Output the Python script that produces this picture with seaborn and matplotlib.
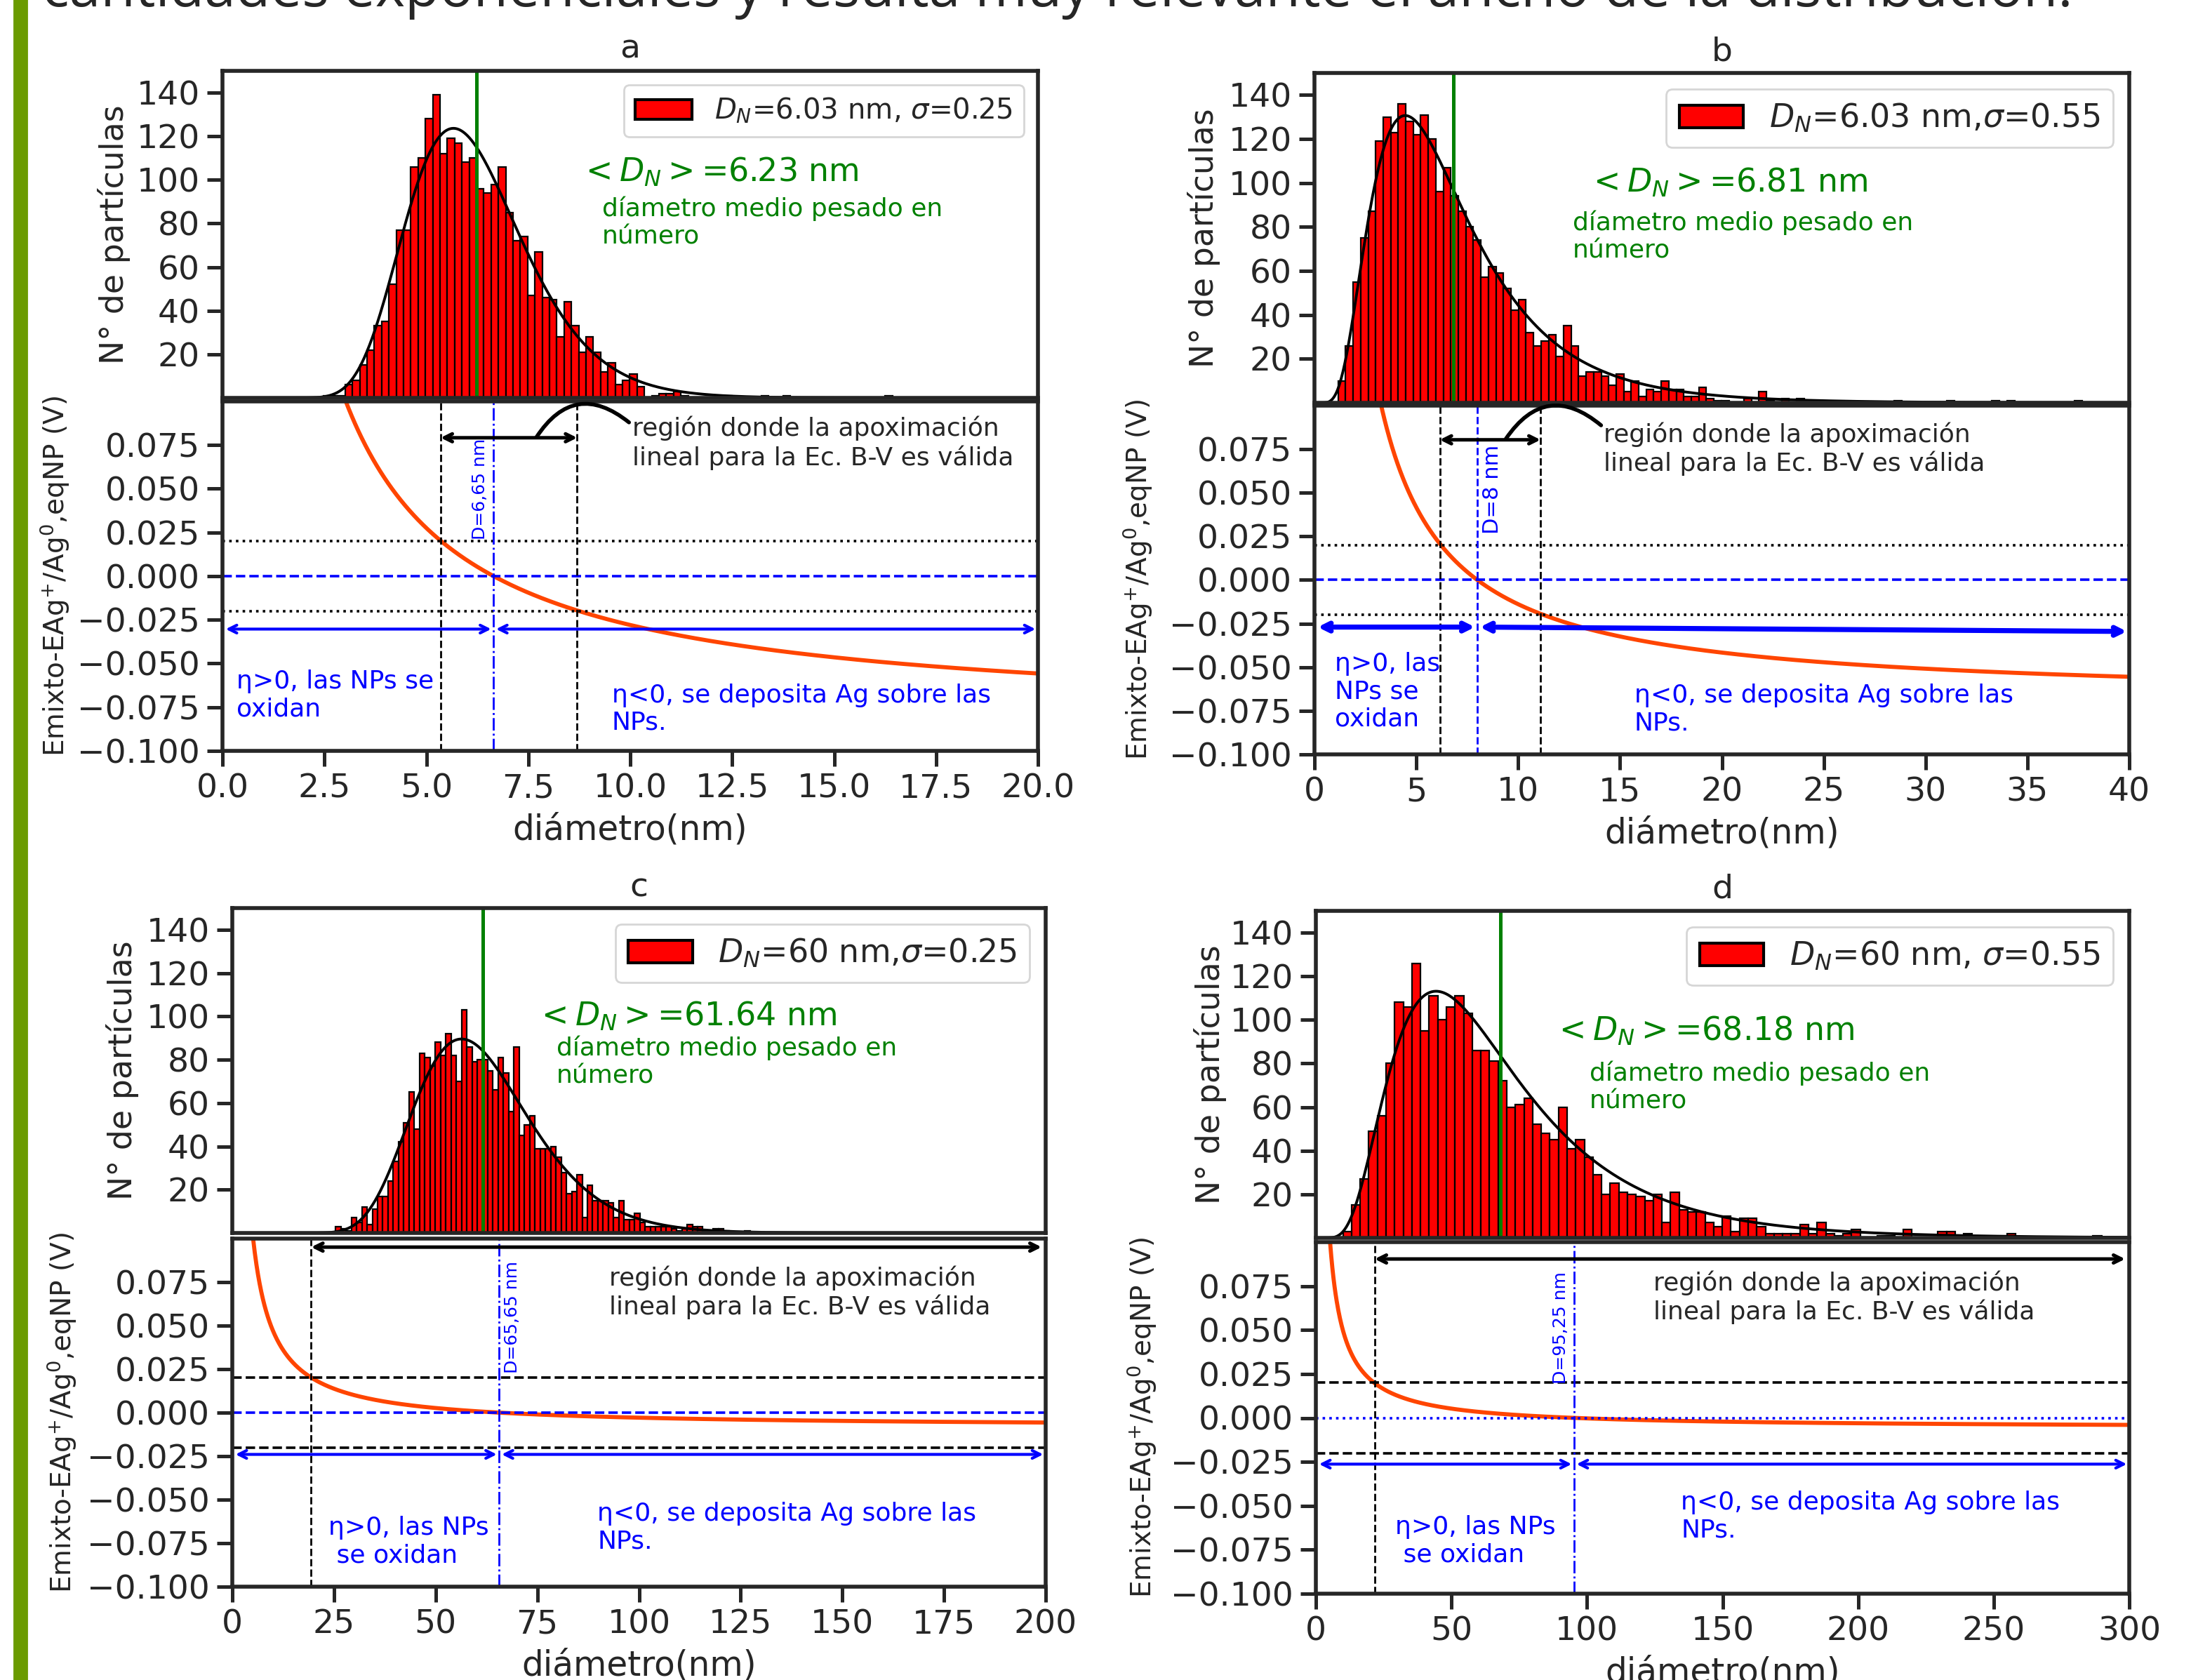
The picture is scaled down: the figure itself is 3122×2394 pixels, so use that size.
import numpy as np
import pandas as pd
import matplotlib.pyplot as plt
import seaborn as sns
from matplotlib.patches import Patch, Rectangle

# HISTOGRAM COUNTS (ONE LIST PER PANEL)
counts_a = [1, 1, 1, 6, 8, 15, 22, 33, 35, 52, 77, 77, 106, 110, 128, 139, 112, 119, 117, 108,
            110, 96, 94, 98, 106, 85, 72, 74, 47, 67, 46, 45, 28, 44, 33, 21, 28, 21, 12, 16,
            6, 8, 11, 5, 0, 1, 2, 2, 3, 1, 0, 0, 0, 0, 0, 1, 0, 0, 0, 0,
            1, 0, 0, 1, 0, 0, 0, 0, 0, 0, 0, 0, 0, 0, 0, 0, 0, 1]
counts_b = [10, 26, 55, 75, 87, 119, 130, 123, 136, 128, 122, 131, 120, 96, 107, 94, 87, 80, 74, 57,
            62, 59, 52, 42, 47, 32, 26, 28, 31, 21, 35, 26, 12, 14, 14, 12, 8, 13, 5, 10,
            3, 6, 5, 10, 6, 6, 3, 3, 7, 2, 1, 1, 0, 0, 2, 0, 5, 1, 0, 2,
            0, 2, 0, 0, 0, 0, 0, 0, 0, 0, 0, 0, 0, 0, 1, 0, 0, 0, 0, 0,
            0, 1, 0, 0, 0, 0, 0, 1, 0, 1, 0, 0, 0, 0, 0, 0, 0, 0, 1]
counts_c = [3, 2, 1, 7, 5, 12, 4, 11, 17, 17, 24, 33, 42, 51, 65, 48, 83, 81, 77, 88,
            82, 92, 82, 70, 103, 86, 79, 80, 80, 75, 66, 81, 74, 56, 86, 45, 50, 54, 39, 39,
            39, 40, 35, 28, 18, 19, 27, 7, 22, 15, 15, 15, 14, 7, 15, 6, 6, 9, 5, 3,
            3, 3, 3, 3, 2, 1, 2, 4, 3, 3, 1, 1, 2, 2, 1, 0, 0, 0, 1]
counts_d = [3, 15, 27, 49, 56, 80, 108, 106, 126, 95, 111, 100, 106, 111, 103, 86, 86, 81, 72, 60,
            61, 64, 52, 48, 45, 60, 41, 45, 37, 29, 20, 25, 21, 20, 19, 17, 20, 7, 21, 13,
            12, 12, 7, 5, 10, 3, 9, 9, 5, 2, 2, 2, 2, 6, 2, 7, 2, 1, 2, 4,
            0, 0, 1, 1, 0, 4, 0, 0, 0, 3, 3, 0, 2, 0, 0, 0, 0, 2, 0, 0,
            0, 0, 0, 0, 0, 0, 0, 1]
all_counts = [counts_a, counts_b, counts_c, counts_d]

# FIRST BIN EDGE AND BIN WIDTH (nm)
bin_start = [2.47, 1.16, 25.4, 10.0]
bin_width = [0.179, 0.369, 1.29, 3.18]

# LOG-NORMAL PARAMETERS (FROM THE LEGENDS) AND MEASURED MEAN DIAMETER
d_n = [6.03, 6.03, 60, 60]
sigma = [0.25, 0.55, 0.25, 0.55]
n_particles = 2530
mean_d = [6.23, 6.81, 61.64, 68.18]
legend_txt = [r'$D_N$=6.03 nm, $\sigma$=0.25', r'$D_N$=6.03 nm,$\sigma$=0.55',
              r'$D_N$=60 nm,$\sigma$=0.25', r'$D_N$=60 nm, $\sigma$=0.55']
mean_txt = [r'$<D_N>$=6.23 nm', r'$<D_N>$=6.81 nm', r'$<D_N>$=61.64 nm', r'$<D_N>$=68.18 nm']

# POTENTIAL CURVE: ZERO CROSSING, LINEAR REGION LIMITS
d_zero = [6.65, 8, 65.65, 95.25]
d_zero_txt = ['D=6,65 nm', 'D=8 nm', 'D=65,65 nm', 'D=95,25 nm']
lin_lo = [5.35, 6.15, 19.4, 21.7]
lin_hi = [8.7, 11.1, 200, 300]
k_kelvin = 0.555  # V nm
x_max = [20, 40, 200, 300]
x_step = [2.5, 5, 25, 50]
titles = ['a', 'b', 'c', 'd']

W, H = 3122, 2394
sns.set_style('ticks')
plt.rcParams['font.family'] = ['DejaVu Sans']
plt.rcParams['mathtext.fontset'] = 'dejavusans'

fig = plt.figure(figsize=(W / 200, H / 200), dpi=200)
fig.patch.set_facecolor('white')


def px_rect(x0, y0, x1, y1):
    return [x0 / W, 1 - y1 / H, (x1 - x0) / W, (y1 - y0) / H]


def lognorm_counts(d, dn, s, w):
    return n_particles * w * np.exp(-(np.log(d / dn)) ** 2 / (2 * s ** 2)) / (d * s * np.sqrt(2 * np.pi))


def e_mix(d, d0):
    return k_kelvin * (1.0 / d - 1.0 / d0)


# AXES POSITIONS IN PIXELS (x0, top, x1, bottom)
hist_px = [(317, 101, 1479, 567), (1873, 104, 3034, 574), (331, 1294, 1490, 1757), (1875, 1298, 3034, 1764)]
low_px = [(317, 572, 1479, 1070), (1873, 578, 3034, 1075), (331, 1765, 1490, 2261), (1875, 1770, 3034, 2271)]

# TEXT / ANNOTATION PLACEMENT PER PANEL
lay = [
    dict(leg_fs=14.5, mean_xy=(8.76, 103.6), sub_xy=(9.31, 80.5), hlab=-0.113, elab=-0.185,
         dz_side='left', dz_fs=9, dz_y=0.021, black_y=0.0792, blue_y=(-0.0303, -0.0303),
         reg_xy=(10.05, 0.0762), arc=((9.97, 0.088), (7.7, 0.0795)),
         left_txt='η>0, las NPs se\noxidan', left_xy=(0.35, -0.068), right_xy=(9.55, -0.076),
         hl=':', zl='--', vl='-.'),
    dict(leg_fs=16.5, mean_xy=(13.4, 100), sub_xy=(12.67, 75.5), hlab=-0.115, elab=-0.196,
         dz_side='right', dz_fs=11, dz_y=0.0264, black_y=0.0804, blue_y=(-0.027, -0.0295),
         reg_xy=(14.2, 0.075), arc=((14.07, 0.0887), (9.4, 0.081)),
         left_txt='η>0, las\nNPs se\noxidan', left_xy=(1.0, -0.064), right_xy=(15.7, -0.074),
         hl=':', zl='--', vl='--'),
    dict(leg_fs=16.5, mean_xy=(74.5, 100), sub_xy=(79.7, 79), hlab=-0.115, elab=-0.189,
         dz_side='right', dz_fs=9, dz_y=0.0227, black_y=0.0951, blue_y=(-0.024, -0.024),
         reg_xy=(92.7, 0.069), arc=None,
         left_txt='η>0, las NPs\n se oxidan', left_xy=(23.6, -0.074), right_xy=(89.8, -0.066),
         hl='--', zl='--', vl='-.'),
    dict(leg_fs=16.5, mean_xy=(87.6, 95), sub_xy=(101, 69.3), hlab=-0.110, elab=-0.193,
         dz_side='left', dz_fs=9, dz_y=0.0195, black_y=0.0904, blue_y=(-0.0263, -0.0263),
         reg_xy=(124.6, 0.0685), arc=None,
         left_txt='η>0, las NPs\n se oxidan', left_xy=(29.2, -0.070), right_xy=(134.7, -0.056),
         hl='--', zl=':', vl='-.'),
]
title_y = [70, 74, 1265, 1267]

for i in range(4):
    L = lay[i]
    ax_h = fig.add_axes(px_rect(*hist_px[i]))
    ax_e = fig.add_axes(px_rect(*low_px[i]))

    # HISTOGRAM + LOG-NORMAL FIT
    counts = np.array(all_counts[i], dtype=float)
    edges = bin_start[i] + bin_width[i] * np.arange(len(counts) + 1)
    hist_df = pd.DataFrame({'diam': edges[:-1] + bin_width[i] / 2, 'n': counts})
    sns.histplot(data=hist_df, x='diam', weights='n', bins=list(edges), color='red', edgecolor='black',
                 linewidth=0.8, alpha=1, ax=ax_h)
    dd = np.linspace(0.004 * x_max[i], x_max[i], 900)
    sns.lineplot(x=dd, y=lognorm_counts(dd, d_n[i], sigma[i], bin_width[i]), color='black',
                 linewidth=1.4, ax=ax_h)
    ax_h.axvline(mean_d[i], color='green', lw=1.8)
    ax_h.set_xlim(0, x_max[i])
    ax_h.set_ylim(0, 150)
    ax_h.set_yticks(np.arange(20, 141, 20))
    ax_h.set_xlabel('')
    ax_h.set_ylabel('N° de partículas', fontsize=16.5)
    ax_h.yaxis.set_label_coords(L['hlab'], 0.5)
    ax_h.legend(handles=[Patch(facecolor='red', edgecolor='black', linewidth=1.5)],
                labels=[legend_txt[i]], loc='upper right', fontsize=L['leg_fs'])
    ax_h.text(*L['mean_xy'], mean_txt[i], color='green', fontsize=16.5, va='center', ha='left')
    ax_h.text(*L['sub_xy'], 'díametro medio pesado en\nnúmero', color='green', fontsize=13,
              va='center', ha='left')
    x0, y0, x1, y1 = hist_px[i]
    fig.text(((x0 + x1) / 2) / W, 1 - title_y[i] / H, titles[i], fontsize=17, ha='center', va='center')

    # POTENTIAL CURVE
    de = np.linspace(0.003 * x_max[i], x_max[i], 1500)
    sns.lineplot(x=de, y=e_mix(de, d_zero[i]), color='orangered', linewidth=2.1, ax=ax_e)
    ax_e.set_xlim(0, x_max[i])
    ax_e.set_ylim(-0.1, 0.1)
    ax_e.set_yticks(np.arange(-0.1, 0.08, 0.025))
    ax_e.set_xticks(np.arange(0, x_max[i] + 0.01, x_step[i]))
    if i == 0:
        ax_e.set_xticklabels(['%.1f' % v for v in np.arange(0, 20.01, 2.5)])
    ax_e.set_xlabel('diámetro(nm)', fontsize=17.5)
    ax_e.set_ylabel('Emixto-EAg$^{+}$/Ag$^{0}$,eqNP (V)', fontsize=14)
    ax_e.yaxis.set_label_coords(L['elab'], 0.5)

    ax_e.axhline(0.02, color='black', ls=L['hl'], lw=1.3)
    ax_e.axhline(-0.02, color='black', ls=L['hl'], lw=1.3)
    ax_e.axhline(0.0, color='blue', ls=L['zl'], lw=1.3)
    ax_e.axvline(lin_lo[i], color='black', ls='--', lw=1.0)
    if lin_hi[i] < x_max[i]:
        ax_e.axvline(lin_hi[i], color='black', ls='--', lw=1.0)
    ax_e.axvline(d_zero[i], color='blue', ls=L['vl'], lw=1.0)

    # VERTICAL LABEL OF THE ZERO CROSSING
    off = 0.006 * x_max[i]
    if L['dz_side'] == 'left':
        ax_e.text(d_zero[i] - off, L['dz_y'], d_zero_txt[i], rotation=90, color='blue',
                  fontsize=L['dz_fs'], ha='right', va='bottom')
    else:
        ax_e.text(d_zero[i] + off, L['dz_y'], d_zero_txt[i], rotation=90, color='blue',
                  fontsize=L['dz_fs'], ha='left', va='bottom')

    # BLACK ARROW: LINEAR REGION
    x_end = min(lin_hi[i], x_max[i] * 0.995)
    ax_e.annotate('', xy=(x_end, L['black_y']), xytext=(lin_lo[i], L['black_y']),
                  arrowprops=dict(arrowstyle='<->', color='black', lw=1.8, shrinkA=0, shrinkB=0))
    ax_e.text(*L['reg_xy'], 'región donde la apoximación\nlineal para la Ec. B-V es válida',
              fontsize=13, ha='left', va='center')
    if L['arc'] is not None:
        ax_e.annotate('', xy=L['arc'][1], xytext=L['arc'][0],
                      arrowprops=dict(arrowstyle='-', color='black', lw=2.0, shrinkA=0, shrinkB=0,
                                      connectionstyle='arc3,rad=0.55'))

    # BLUE ARROWS: OXIDATION / DEPOSITION REGIONS
    blw = 2.6 if i == 1 else 1.5
    ax_e.annotate('', xy=(d_zero[i] - off * 0.5, L['blue_y'][0]), xytext=(0.004 * x_max[i], L['blue_y'][0]),
                  arrowprops=dict(arrowstyle='<->', color='blue', lw=blw, shrinkA=0, shrinkB=0))
    ax_e.annotate('', xy=(x_max[i] * 0.997, L['blue_y'][1]), xytext=(d_zero[i] + off * 0.5, L['blue_y'][0]),
                  arrowprops=dict(arrowstyle='<->', color='blue', lw=blw, shrinkA=0, shrinkB=0))
    ax_e.text(*L['left_xy'], L['left_txt'], color='blue', fontsize=13, ha='left', va='center')
    ax_e.text(*L['right_xy'], 'η<0, se deposita Ag sobre las\nNPs.', color='blue', fontsize=13,
              ha='left', va='center')

    for ax in (ax_h, ax_e):
        for s in ax.spines.values():
            s.set_linewidth(2.0)
            s.set_visible(True)
        ax.tick_params(labelsize=17, length=8, width=1.8, direction='out')
    ax_h.tick_params(axis='x', bottom=False, labelbottom=False)

# PAGE DECORATION: GREEN MARGIN BAR AND CLIPPED LINE OF TEXT
fig.add_artist(Rectangle((20 / W, 0), 18 / W, 1, transform=fig.transFigure, color='#6b9b00', zorder=0))
fig.text(60 / W, 1 - 9 / H, 'cantidades exponenciales y resulta muy relevante el ancho de la distribución.',
         fontsize=29, va='baseline', ha='left', family=['Open Sans', 'DejaVu Sans'])

fig.savefig('out.png', dpi=200)
